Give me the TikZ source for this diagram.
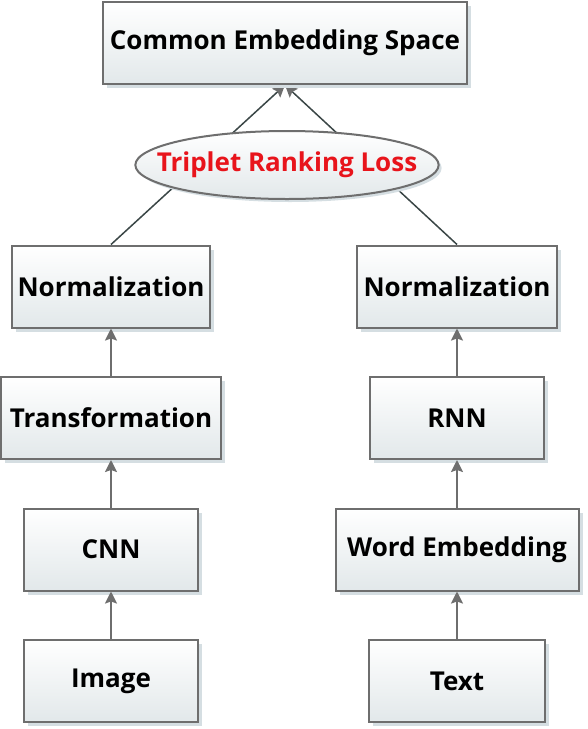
\documentclass[tikz,border=0pt]{standalone}
\usepackage{fontspec}
\setmainfont{Open Sans}
\usetikzlibrary{shapes.geometric, arrows.meta, positioning, calc, shadows, backgrounds}
\definecolor{boxline}{HTML}{6E6E6E}
\definecolor{boxshadow}{HTML}{D5DEE2}
\definecolor{boxbottom}{HTML}{E2E8EA}
\definecolor{lossred}{HTML}{E8141B}
\definecolor{diagline}{HTML}{3A4646}
\tikzset{
    block/.style={rectangle, draw=boxline, line width=2pt, top color=white, bottom color=boxbottom, minimum width=174pt, minimum height=82pt, align=center, font=\fontsize{26}{30}\selectfont\bfseries, drop shadow={shadow xshift=4pt, shadow yshift=-4pt, fill=boxshadow, opacity=1}},
    loss/.style={ellipse, draw=boxline, line width=2pt, top color=white, bottom color=boxbottom, minimum width=297pt, minimum height=68pt, inner xsep=-23pt, inner ysep=3pt, text=lossred, font=\fontsize{26}{30}\selectfont\bfseries, drop shadow={shadow xshift=3pt, shadow yshift=-3pt, fill=boxshadow, opacity=1}},
    flow/.style={draw=boxline, line width=2pt, -{Stealth[length=12pt, width=12pt, inset=2pt]}},
    merge/.style={draw=diagline, line width=1.5pt, -{Stealth[length=12pt, width=12pt, inset=2pt, color=boxline, fill=boxline]}}
}

\begin{document}
\begin{tikzpicture}[node distance=47.5pt]
    \useasboundingbox (0,0) rectangle (588pt,-729pt);
    % image branch
    \node[block] (image) at (111pt,-681pt) {Image};
    \node[block, above=of image] (cnn) {CNN};
    \node[block, above=of cnn, minimum width=220pt] (transform) {Transformation};
    \node[block, above=of transform, minimum width=198pt] (normimg) {Normalization};
    % text branch
    \node[block, minimum width=176pt] (text) at (457pt,-681pt) {Text};
    \node[block, above=of text, minimum width=243pt] (wordemb) {Word Embedding};
    \node[block, above=of wordemb] (rnn) {RNN};
    \node[block, above=of rnn, minimum width=200pt] (normtxt) {Normalization};
    % joint space
    \node[block, minimum width=364pt] (space) at (285pt,-43pt) {Common Embedding Space};
    \node[loss] (loss) at (287pt,-165pt) {Triplet Ranking Loss};

    \draw[flow] (image) -- (cnn);
    \draw[flow] (cnn) -- (transform);
    \draw[flow] (transform) -- (normimg);
    \draw[flow] (text) -- (wordemb);
    \draw[flow] (wordemb) -- (rnn);
    \draw[flow] (rnn) -- (normtxt);
    \begin{scope}[on background layer]
        \draw[merge] (normimg.north) -- (space.south);
        \draw[merge] (normtxt.north) -- (space.south);
    \end{scope}
\end{tikzpicture}
\end{document}
